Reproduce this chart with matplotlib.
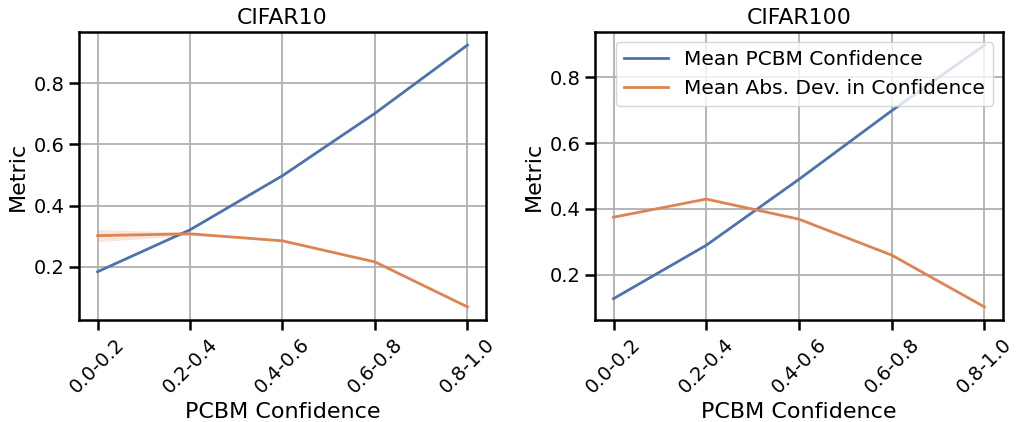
import numpy as np
import matplotlib
matplotlib.use("Agg")
import matplotlib.pyplot as plt

bins = ["0.0-0.2", "0.2-0.4", "0.4-0.6", "0.6-0.8", "0.8-1.0"]

# CIFAR10
c10_conf = [0.184, 0.321, 0.498, 0.702, 0.925]
c10_dev = [0.302, 0.308, 0.285, 0.216, 0.069]
c10_dev_err = [0.02, 0.005, 0.0, 0.0, 0.0]

# CIFAR100
c100_conf = [0.128, 0.290, 0.490, 0.698, 0.897]
c100_dev = [0.375, 0.430, 0.369, 0.260, 0.103]

blue = "#4C72B0"
orange = "#DD8452"

fig = plt.figure(figsize=(10.16, 4.22), dpi=100)
ax1 = fig.add_axes([0.0778, 0.2417, 0.4005, 0.6825])
ax2 = fig.add_axes([0.5856, 0.2417, 0.4016, 0.6825])

x = np.arange(len(bins))

def style(ax, title):
    ax.set_title(title, fontsize=15.8)
    ax.set_xlabel("PCBM Confidence", fontsize=16)
    ax.set_ylabel("Metric", fontsize=16)
    ax.set_xticks(x)
    ax.set_xticklabels(bins, rotation=45)
    ax.tick_params(labelsize=14, length=7, width=1.8)
    ax.grid(True, color="#b0b0b0", linewidth=1.3)
    ax.set_axisbelow(True)
    for s in ax.spines.values():
        s.set_linewidth(1.8)

ax1.plot(x, c10_conf, color=blue, lw=2, label="Mean PCBM Confidence")
ax1.plot(x, c10_dev, color=orange, lw=2, label="Mean Abs. Dev. in Confidence")
lo = np.array(c10_dev) - np.array(c10_dev_err)
hi = np.array(c10_dev) + np.array(c10_dev_err)
ax1.fill_between(x, lo, hi, color=orange, alpha=0.2, lw=0)
ax1.set_yticks([0.2, 0.4, 0.6, 0.8])
style(ax1, "CIFAR10")

ax2.plot(x, c100_conf, color=blue, lw=2, label="Mean PCBM Confidence")
ax2.plot(x, c100_dev, color=orange, lw=2, label="Mean Abs. Dev. in Confidence")
ax2.set_yticks([0.2, 0.4, 0.6, 0.8])
style(ax2, "CIFAR100")
ax2.legend(loc="upper right", fontsize=14.5, handlelength=2.2)

fig.savefig("out.png", dpi=100)
